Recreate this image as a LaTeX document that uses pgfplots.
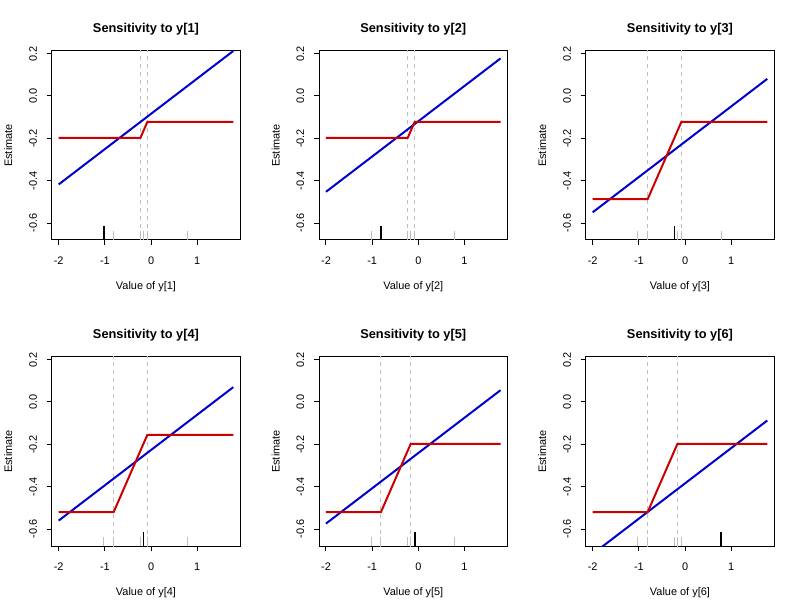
\documentclass[border=0pt]{standalone}
\usepackage{fontspec}
\setmainfont{Liberation Sans}
\usepackage{pgfplots}
\pgfplotsset{compat=1.18}
\definecolor{rblue}{RGB}{0,0,205}
\definecolor{rred}{RGB}{205,0,0}
\definecolor{rgray}{RGB}{190,190,190}
\pgfplotsset{
  panel/.style={
    scale only axis, width=141.4pt, height=141.75pt, anchor=south west,
    xmin=-2.1512, xmax=1.9312, ymin=-0.68, ymax=0.2125,
    xtick={-2,-1,0,1}, xticklabels={-2,-1,0,1},
    ytick={-0.6,-0.4,-0.2,0,0.2}, yticklabels={-0.6,-0.4,-0.2,0.0,0.2},
    tick align=outside, tick pos=left, major tick length=3.75pt,
    axis line style={line width=0.75pt, black},
    every tick/.style={black, line width=0.75pt},
    /pgf/number format/assume math mode=true,
    tick label style={font=\fontsize{8.2}{9}\selectfont},
    xticklabel shift=5.25pt,
    yticklabel shift=3.75pt,
    yticklabel style={rotate=90, anchor=south},
    label style={font=\fontsize{8.2}{9}\selectfont},
    ylabel={Estimate},
    xlabel style={at={(axis description cs:0.5,-0.247)}, anchor=center},
    ylabel style={at={(axis description cs:-0.2302,0.5)}, anchor=center},
    every axis title/.style={font=\fontsize{9.6}{11}\selectfont\bfseries, at={(axis description cs:0.5,1.117)}, anchor=center},
    clip=true,
  },
  dashg/.style={rgray, line width=0.75pt, dash pattern=on 3pt off 3pt},
  bline/.style={rblue, line width=1.5pt},
  rline/.style={rred, line width=1.5pt},
  rugg/.style={rgray, line width=0.75pt},
  rugb/.style={black, line width=1.3pt},
}
\newcommand{\rug}[1]{\addplot[rugg] coordinates {(#1,-0.68) (#1,-0.6376)};}
\newcommand{\rugk}[1]{\addplot[rugb] coordinates {(#1,-0.68) (#1,-0.614)};}
\begin{document}
\begin{tikzpicture}
\useasboundingbox (0,0) rectangle (600pt,458.25pt);
% Panel 1
\begin{axis}[panel, at={(38.78pt,278.25pt)}, title={Sensitivity to y[1]}, xlabel={Value of y[1]}]
\addplot[dashg] coordinates {(-0.23,-0.7) (-0.23,0.3)};
\addplot[dashg] coordinates {(-0.08,-0.7) (-0.08,0.3)};
\addplot[bline] coordinates {(-2,-0.4175) (1.78,0.2125)};
\addplot[rline] coordinates {(-2,-0.1975) (-0.23,-0.1975) (-0.08,-0.1225) (1.78,-0.1225)};
\rug{-0.81}\rug{-0.23}\rug{-0.165}\rug{-0.08}\rug{0.78}\rugk{-1.02}
\end{axis}
% Panel 2
\begin{axis}[panel, at={(239.25pt,278.25pt)}, title={Sensitivity to y[2]}, xlabel={Value of y[2]}]
\addplot[dashg] coordinates {(-0.23,-0.7) (-0.23,0.3)};
\addplot[dashg] coordinates {(-0.08,-0.7) (-0.08,0.3)};
\addplot[bline] coordinates {(-2,-0.4525) (1.78,0.1775)};
\addplot[rline] coordinates {(-2,-0.1975) (-0.23,-0.1975) (-0.08,-0.1225) (1.78,-0.1225)};
\rug{-1.02}\rug{-0.23}\rug{-0.165}\rug{-0.08}\rug{0.78}\rugk{-0.81}
\end{axis}
% Panel 3
\begin{axis}[panel, at={(439.28pt,278.25pt)}, title={Sensitivity to y[3]}, xlabel={Value of y[3]}]
\addplot[dashg] coordinates {(-0.81,-0.7) (-0.81,0.3)};
\addplot[dashg] coordinates {(-0.08,-0.7) (-0.08,0.3)};
\addplot[bline] coordinates {(-2,-0.5492) (1.78,0.0808)};
\addplot[rline] coordinates {(-2,-0.4875) (-0.81,-0.4875) (-0.08,-0.1225) (1.78,-0.1225)};
\rug{-1.02}\rug{-0.81}\rug{-0.165}\rug{-0.08}\rug{0.78}\rugk{-0.23}
\end{axis}
% Panel 4
\begin{axis}[panel, at={(38.78pt,48.75pt)}, title={Sensitivity to y[4]}, xlabel={Value of y[4]}]
\addplot[dashg] coordinates {(-0.81,-0.7) (-0.81,0.3)};
\addplot[dashg] coordinates {(-0.08,-0.7) (-0.08,0.3)};
\addplot[bline] coordinates {(-2,-0.56) (1.78,0.07)};
\addplot[rline] coordinates {(-2,-0.52) (-0.81,-0.52) (-0.08,-0.155) (1.78,-0.155)};
\rug{-1.02}\rug{-0.81}\rug{-0.23}\rug{-0.08}\rug{0.78}\rugk{-0.165}
\end{axis}
% Panel 5
\begin{axis}[panel, at={(239.25pt,48.75pt)}, title={Sensitivity to y[5]}, xlabel={Value of y[5]}]
\addplot[dashg] coordinates {(-0.81,-0.7) (-0.81,0.3)};
\addplot[dashg] coordinates {(-0.165,-0.7) (-0.165,0.3)};
\addplot[bline] coordinates {(-2,-0.5742) (1.78,0.0558)};
\addplot[rline] coordinates {(-2,-0.52) (-0.81,-0.52) (-0.165,-0.1975) (1.78,-0.1975)};
\rug{-1.02}\rug{-0.81}\rug{-0.23}\rug{-0.165}\rug{0.78}\rugk{-0.08}
\end{axis}
% Panel 6
\begin{axis}[panel, at={(439.28pt,48.75pt)}, title={Sensitivity to y[6]}, xlabel={Value of y[6]}]
\addplot[dashg] coordinates {(-0.81,-0.7) (-0.81,0.3)};
\addplot[dashg] coordinates {(-0.165,-0.7) (-0.165,0.3)};
\addplot[bline] coordinates {(-2,-0.7175) (1.78,-0.0875)};
\addplot[rline] coordinates {(-2,-0.52) (-0.81,-0.52) (-0.165,-0.1975) (1.78,-0.1975)};
\rug{-1.02}\rug{-0.81}\rug{-0.23}\rug{-0.165}\rug{-0.08}\rugk{0.78}
\end{axis}
\end{tikzpicture}
\end{document}
